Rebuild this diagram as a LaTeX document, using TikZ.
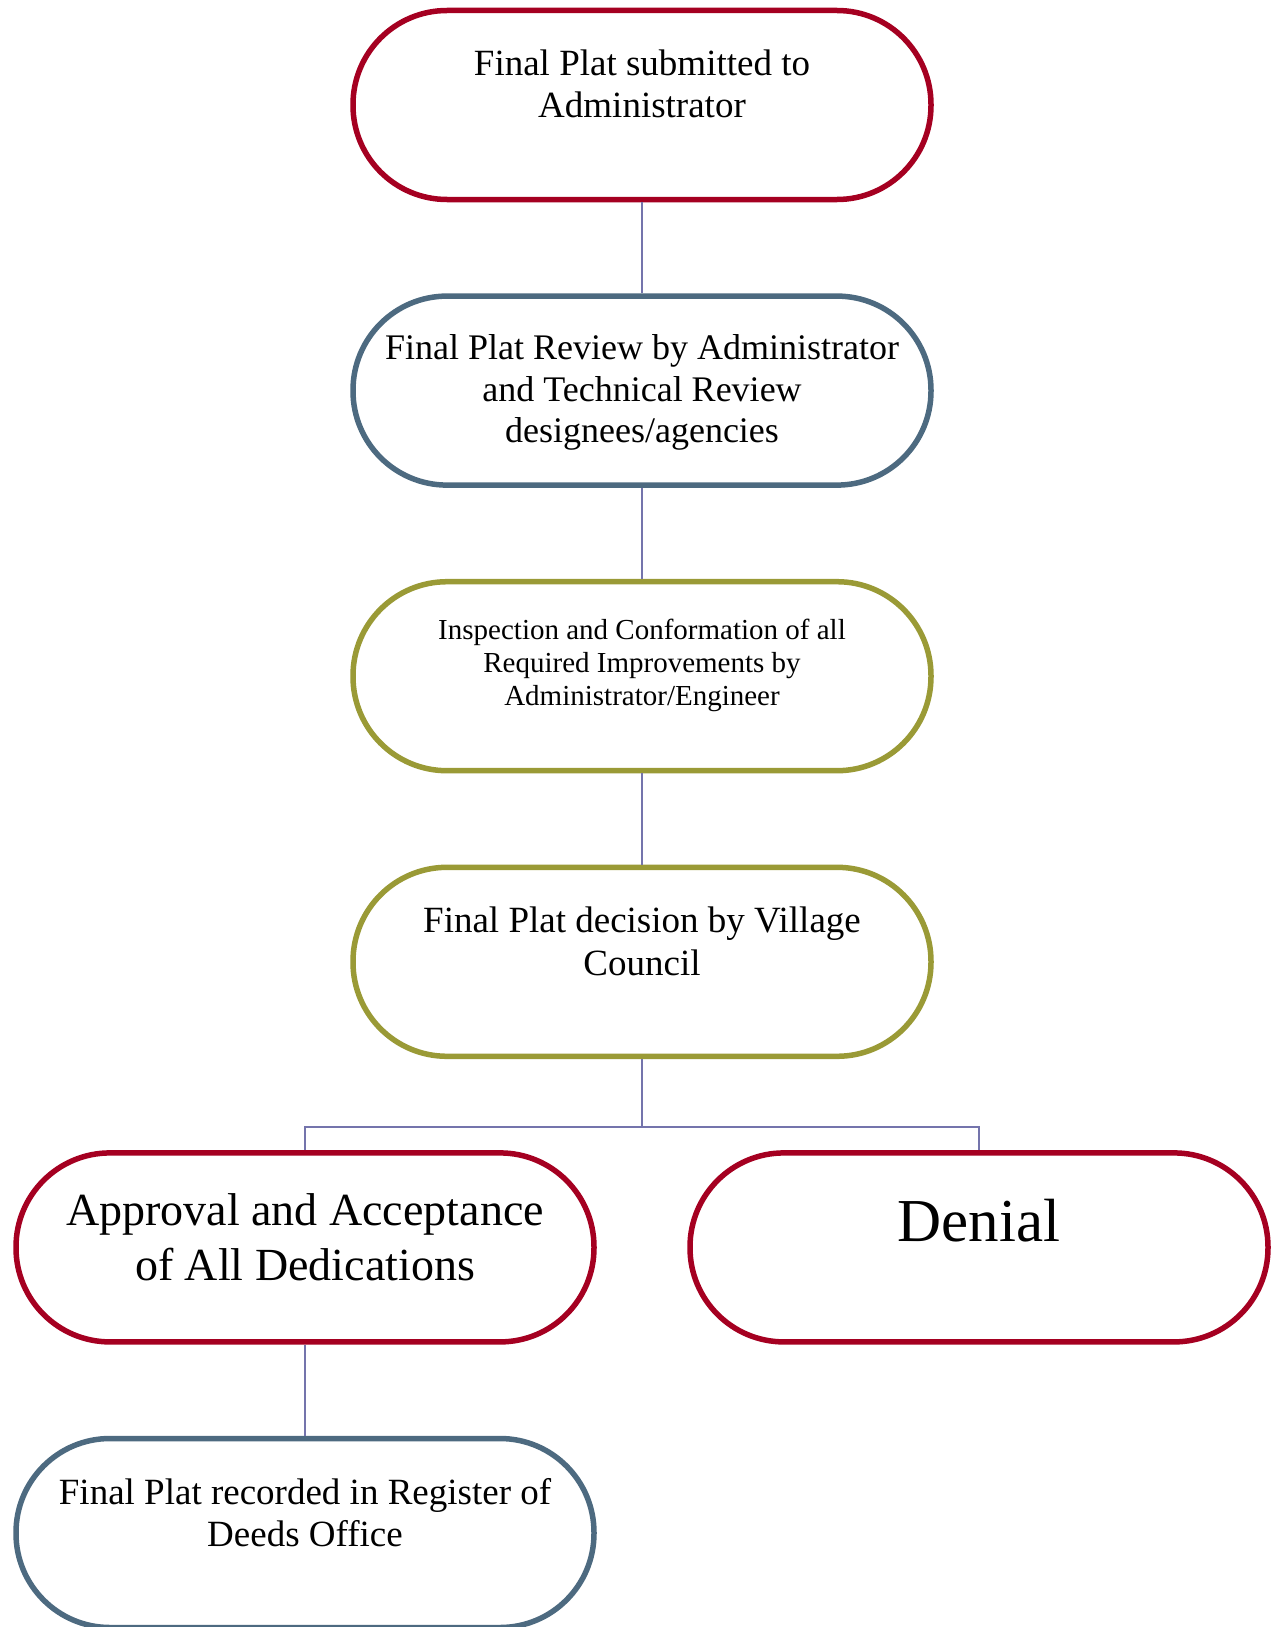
\documentclass[tikz,border=0pt]{standalone}
\usepackage{fontspec}
\setmainfont{Liberation Serif}
\usetikzlibrary{trees}
\definecolor{dkred}{HTML}{A50021}
\definecolor{slate}{HTML}{4D6A80}
\definecolor{olive}{HTML}{9A9A36}
\definecolor{conn}{HTML}{7474AC}
\begin{document}
\begin{tikzpicture}[x=1pt,y=1pt]
\tikzstyle{stage}=[rectangle,rounded corners=94pt,draw,line width=5.5pt,fill=white,minimum width=578pt,minimum height=189pt]
\tikzstyle{txt}=[align=center,inner sep=0pt]
\tikzstyle{level 4}=[sibling distance=674pt]
\useasboundingbox (0,0) rectangle (1271,-1627);
\node[stage,draw=dkred] (submit) at (642,-105) {}
 [grow=down,level distance=285.6pt,
  edge from parent/.style={draw=conn,line width=1.8pt},
  edge from parent path={(\tikzparentnode.south) -- +(0,-68pt) -| (\tikzchildnode.north)}]
 child {node[stage,draw=slate] (review) {}
  child {node[stage,draw=olive] (inspect) {}
   child {node[stage,draw=olive] (decide) {}
    child {node[stage,draw=dkred] (approve) {}
     child {node[stage,draw=slate] (record) {}}
    }
    child {node[stage,draw=dkred] (deny) {}}
   }
  }
 };
\node[txt,font=\fontsize{37}{42}\selectfont] (submit-t) at ([yshift=21.5pt]submit.center) {Final Plat submitted to\\Administrator};
\node[txt,font=\fontsize{36}{41.5}\selectfont] (review-t) at ([yshift=-2pt]review.center) {Final Plat Review by Administrator\\and Technical Review\\designees/agencies};
\node[txt,font=\fontsize{29}{33}\selectfont] (inspect-t) at ([yshift=11pt]inspect.center) {Inspection and Conformation of all\\Required Improvements by\\Administrator/Engineer};
\node[txt,font=\fontsize{37}{43}\selectfont] (decide-t) at ([yshift=20.5pt]decide.center) {Final Plat decision by Village\\Council};
\node[txt,font=\fontsize{46}{55}\selectfont] (approve-t) at ([yshift=10pt]approve.center) {Approval and Acceptance\\of All Dedications};
\node[txt,font=\fontsize{61}{70}\selectfont] (deny-t) at ([yshift=27pt]deny.center) {Denial};
\node[txt,font=\fontsize{37}{42}\selectfont] (record-t) at ([yshift=20pt]record.center) {Final Plat recorded in Register of\\Deeds Office};
\end{tikzpicture}
\end{document}
